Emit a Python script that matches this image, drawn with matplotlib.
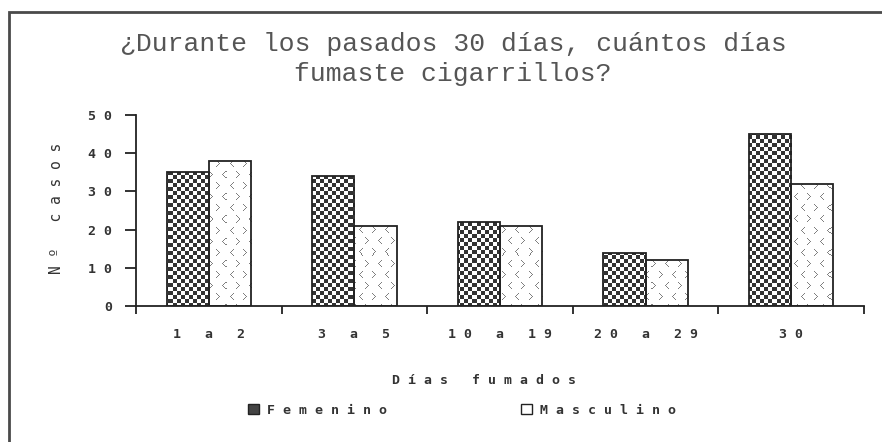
import numpy as np
import matplotlib
matplotlib.use("Agg")
import matplotlib.pyplot as plt
from matplotlib.patches import Rectangle, Patch

categorias = ["1 a 2", "3 a 5", "10 a 19", "20 a 29", "30"]
femenino = [35, 34, 22, 14, 45]
masculino = [38, 21, 21, 12, 32]
y_ticks = [0, 10, 20, 30, 40, 50]

W, H = 882, 442
AX_L, AX_R, AX_B, AX_T = 136, 864, 306, 115
TXT = "#333333"
SMALL = "DejaVu Sans Mono"


def spaced(s):
    # the original chart uses wide letter spacing for the small texts
    return " ".join(s)


def checker(h, w):
    yy, xx = np.mgrid[0:h, 0:w]
    dark = ((xx // 4) + (yy // 4)) % 2 == 0
    img = np.ones((h, w, 3))
    img[dark] = 0.2
    return img


def chevrons(h, w):
    img = np.ones((h, w, 3))
    right = [(0, 0), (1, 1), (2, 2), (3, 3), (2, 4), (1, 5), (0, 6)]
    left = [(3 - dx, dy) for dx, dy in right]
    for row, y0 in enumerate(range(2, h, 11)):
        for col, x0 in enumerate(range(2 + (row % 2) * 6, w, 13)):
            glyph = right if (row + col) % 2 == 0 else left
            for dx, dy in glyph:
                if y0 + dy < h and x0 + dx < w:
                    img[y0 + dy, x0 + dx] = 0.5
    return img


fig = plt.figure(figsize=(W / 100, H / 100), dpi=100)
ax = fig.add_axes([AX_L / W, (H - AX_B) / H, (AX_R - AX_L) / W, (AX_B - AX_T) / H])

# outer frame of the chart (only left and top edges are inside the picture)
fig.patches.append(Rectangle((9 / W, -0.05), 1.0, (H - 12) / H + 0.05,
                             transform=fig.transFigure, fill=False,
                             edgecolor="#4a4a4a", linewidth=2))

x = np.arange(len(categorias))
bw = 0.29
bars_f = ax.bar(x - bw / 2, femenino, bw, facecolor="none", edgecolor="#222222", linewidth=1.3, zorder=3)
bars_m = ax.bar(x + bw / 2, masculino, bw, facecolor="none", edgecolor="#222222", linewidth=1.3, zorder=3)

ph, pw = AX_B - AX_T, AX_R - AX_L
for bars, tex in [(bars_f, checker(ph, pw)), (bars_m, chevrons(ph, pw))]:
    for b in bars:
        im = ax.imshow(tex, extent=(0, 1, 0, 1), transform=ax.transAxes,
                       interpolation="nearest", aspect="auto", zorder=2)
        im.set_clip_path(b)

ax.set_xlim(-0.5, len(categorias) - 0.5)
ax.set_ylim(0, 50)
ax.set_yticks(y_ticks)
ax.set_yticklabels([spaced(str(v)) for v in y_ticks])
ax.set_xticks(x)
ax.set_xticklabels([spaced(c) for c in categorias])
ax.set_xticks(np.arange(-0.5, len(categorias)), minor=True)
ax.tick_params(axis="x", which="major", length=0, pad=16)
ax.tick_params(axis="x", which="minor", length=6, width=1.3, direction="out", color="#222222")
ax.tick_params(axis="y", length=8, width=1.3, direction="out", color="#222222", pad=9)

for lab in ax.get_xticklabels() + ax.get_yticklabels():
    lab.set_fontfamily(SMALL)
    lab.set_fontsize(9.5)
    lab.set_fontweight("bold")
    lab.set_color(TXT)

for s in ["top", "right"]:
    ax.spines[s].set_visible(False)
for s in ["left", "bottom"]:
    ax.spines[s].set_linewidth(1.3)
    ax.spines[s].set_color("#222222")

fig.text(453 / W, 1 - 59 / H, "¿Durante los pasados 30 días, cuántos días\nfumaste cigarrillos?",
         ha="center", va="center", fontfamily="Liberation Mono", fontsize=19, color="#555555",
         linespacing=1.36)
fig.text(57 / W, 1 - 208 / H, spaced("Nº casos"), rotation=90, ha="center", va="center",
         fontfamily=SMALL, fontsize=10.5, color=TXT)
fig.text(484 / W, 1 - 381 / H, spaced("Días fumados"), ha="center", va="center",
         fontfamily=SMALL, fontsize=9.5, fontweight="bold", color=TXT)

handles = [Patch(facecolor="#444444", edgecolor="#222222"),
           Patch(facecolor="white", edgecolor="#222222")]
fig.legend(handles, [spaced("Femenino"), spaced("Masculino")], ncol=2, frameon=False,
           loc="center", bbox_to_anchor=(462 / W, 1 - 410 / H), handlelength=0.8, handleheight=0.8,
           handletextpad=0.6, columnspacing=10.2,
           prop={"family": SMALL, "size": 9.5, "weight": "bold"})
for t in fig.legends[0].get_texts():
    t.set_color(TXT)

fig.savefig("out.png", dpi=100)
